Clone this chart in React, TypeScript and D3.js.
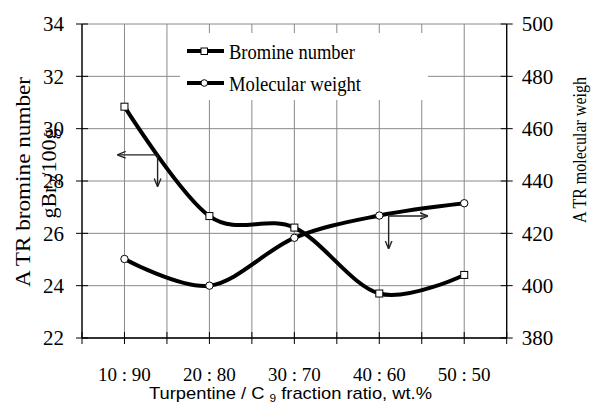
import React from "react";
import * as d3 from "d3";

const categories = ["10 : 90", "20 : 80", "30 : 70", "40 : 60", "50 : 50"];
const bromineNumber = [30.84, 26.66, 26.22, 23.7, 24.41];
const molecularWeight = [410.2, 400, 418.3, 426.8, 431.5];
const leftTicks = [22, 24, 26, 28, 30, 32, 34];
const rightTicks = [380, 400, 420, 440, 460, 480, 500];
const seriesNames = ["Bromine number", "Molecular weight"];

const W = 593;
const H = 409;
const L = 82;
const R = 506.7;
const T = 24;
const B = 338;

export default function App() {
  const x = d3.scaleBand<string>().domain(categories).range([L, R]).paddingInner(0).paddingOuter(0);
  const bw = x.bandwidth();
  const cx = (c: string) => (x(c) as number) + bw / 2;
  const xi = d3.scaleLinear().domain([0, 1]).range([cx(categories[0]), cx(categories[1])]);
  const yL = d3.scaleLinear().domain([22, 34]).range([B, T]);
  const yR = d3.scaleLinear().domain([380, 500]).range([B, T]);

  const xTicks: number[] = [];
  categories.forEach((c) => {
    xTicks.push(x(c) as number);
    xTicks.push(cx(c));
  });
  xTicks.push(R);

  const lineL = d3
    .line<number>()
    .x((_, i) => cx(categories[i]))
    .y((d) => yL(d))
    .curve(d3.curveCardinal.tension(0));
  const lineR = d3
    .line<number>()
    .x((_, i) => cx(categories[i]))
    .y((d) => yR(d))
    .curve(d3.curveCardinal.tension(0));

  const grid = "#8a8a8a";
  const serif = "Liberation Serif, Times New Roman, serif";
  const narrow = "Liberation Sans Narrow, Arial Narrow, Liberation Sans, sans-serif";

  // annotation arrows (category index / axis values)
  const a1 = { y: yL(29), x0: xi(0.39), x1: xi(-0.075), y1: yL(27.81) };
  const a2 = { y: yR(426.6), x0: xi(3.11), x1: xi(3.565), y1: yR(414.3) };

  return (
    <svg width={W} height={H} style={{ position: "absolute", left: 0, top: 0, background: "#fff" }}>
      <defs>
        <marker id="ah" viewBox="0 0 10 10" refX="9" refY="5" markerWidth="6" markerHeight="6" orient="auto-start-reverse">
          <path d="M0,1 L10,5 L0,9" fill="none" stroke="#222" strokeWidth={1.6} />
        </marker>
      </defs>
      <rect x={0} y={0} width={W} height={H} fill="#fff" />
      {/* gridlines */}
      {leftTicks.map((t) => (
        <line key={"hg" + t} x1={L} x2={R} y1={yL(t)} y2={yL(t)} stroke={grid} strokeWidth={1} />
      ))}
      {xTicks.map((t, i) => (
        <line key={"vg" + i} x1={t} x2={t} y1={T} y2={B} stroke={grid} strokeWidth={1} />
      ))}
      {/* legend box */}
      <rect x={180} y={33} width={248} height={67} fill="#fff" />
      {/* axes */}
      <line x1={L} x2={L} y1={T} y2={B} stroke="#000" strokeWidth={1.3} />
      <line x1={R} x2={R} y1={T} y2={B} stroke="#000" strokeWidth={1.3} />
      <line x1={L} x2={R} y1={B} y2={B} stroke="#000" strokeWidth={1.3} />
      {leftTicks.map((t) => (
        <g key={"lt" + t}>
          <line x1={L - 6} x2={L + 6} y1={yL(t)} y2={yL(t)} stroke="#000" strokeWidth={1} />
          <text x={L - 18} y={yL(t)} dy="0.35em" textAnchor="end" fontFamily={serif} fontSize={21} fill="#000">
            {t}
          </text>
        </g>
      ))}
      {rightTicks.map((t) => (
        <g key={"rt" + t}>
          <line x1={R - 6} x2={R + 6} y1={yR(t)} y2={yR(t)} stroke="#000" strokeWidth={1} />
          <text x={R + 15} y={yR(t)} dy="0.35em" textAnchor="start" fontFamily={serif} fontSize={21} fill="#000">
            {t}
          </text>
        </g>
      ))}
      {xTicks.map((t, i) => (
        <line key={"xt" + i} x1={t} x2={t} y1={B - 6} y2={B + 6} stroke="#000" strokeWidth={1} />
      ))}
      {categories.map((c) => (
        <text key={"xl" + c} x={cx(c)} y={381} textAnchor="middle" fontFamily={serif} fontSize={19} fill="#000" xmlSpace="preserve">
          {c}
        </text>
      ))}
      {/* axis titles */}
      <text
        transform={`translate(30,${182}) rotate(-90)`}
        textAnchor="middle"
        fontFamily={serif}
        fontSize={22}
        textLength={210}
        lengthAdjust="spacingAndGlyphs"
        fill="#000"
      >
        A TR bromine number
      </text>
      <text
        transform={`translate(56,${173.5}) rotate(-90)`}
        textAnchor="middle"
        fontFamily={serif}
        fontSize={22}
        fill="#000"
      >
        gBr<tspan fontSize={14} dy={4}>2</tspan>
        <tspan dy={-4}>/100g</tspan>
      </text>
      <text
        transform={`translate(586,${150}) rotate(-90)`}
        textAnchor="middle"
        fontFamily={serif}
        fontSize={19}
        textLength={146}
        lengthAdjust="spacingAndGlyphs"
        fill="#000"
      >
        A TR molecular weigh
      </text>
      <text x={149} y={399} fontFamily={narrow} fontSize={17} textLength={283} lengthAdjust="spacingAndGlyphs" fill="#000">
        Turpentine / C <tspan fontSize={11} dy={3}>9</tspan>
        <tspan dy={-3}> fraction ratio, wt.%</tspan>
      </text>
      {/* series */}
      <path d={lineL(bromineNumber) || ""} fill="none" stroke="#000" strokeWidth={4} />
      <path d={lineR(molecularWeight) || ""} fill="none" stroke="#000" strokeWidth={4} />
      {bromineNumber.map((v, i) => (
        <rect key={"sq" + i} x={cx(categories[i]) - 3.5} y={yL(v) - 3.5} width={7} height={7} fill="#fff" stroke="#000" strokeWidth={1} />
      ))}
      {molecularWeight.map((v, i) => (
        <circle key={"ci" + i} cx={cx(categories[i])} cy={yR(v)} r={3.7} fill="#fff" stroke="#000" strokeWidth={1} />
      ))}
      {/* arrows */}
      <line x1={a1.x0} x2={a1.x1} y1={a1.y} y2={a1.y} stroke="#222" strokeWidth={1.4} markerEnd="url(#ah)" />
      <line x1={a1.x0} x2={a1.x0} y1={a1.y} y2={a1.y1} stroke="#222" strokeWidth={1.4} markerEnd="url(#ah)" />
      <line x1={a2.x0} x2={a2.x1} y1={a2.y} y2={a2.y} stroke="#222" strokeWidth={1.4} markerEnd="url(#ah)" />
      <line x1={a2.x0} x2={a2.x0} y1={a2.y} y2={a2.y1} stroke="#222" strokeWidth={1.4} markerEnd="url(#ah)" />
      {/* legend */}
      {seriesNames.map((s, i) => {
        const ly = 51 + i * 32;
        return (
          <g key={"lg" + s}>
            <line x1={187} x2={224} y1={ly} y2={ly} stroke="#000" strokeWidth={4} />
            {i === 0 ? (
              <rect x={201} y={ly - 3} width={6.5} height={6.5} fill="#fff" stroke="#000" strokeWidth={1} />
            ) : (
              <circle cx={204.3} cy={ly} r={3.3} fill="#fff" stroke="#000" strokeWidth={1} />
            )}
            <text x={229} y={ly + 7.5} fontFamily={serif} fontSize={20} textLength={i === 0 ? 126 : 132} lengthAdjust="spacingAndGlyphs" fill="#000">
              {s}
            </text>
          </g>
        );
      })}
    </svg>
  );
}
